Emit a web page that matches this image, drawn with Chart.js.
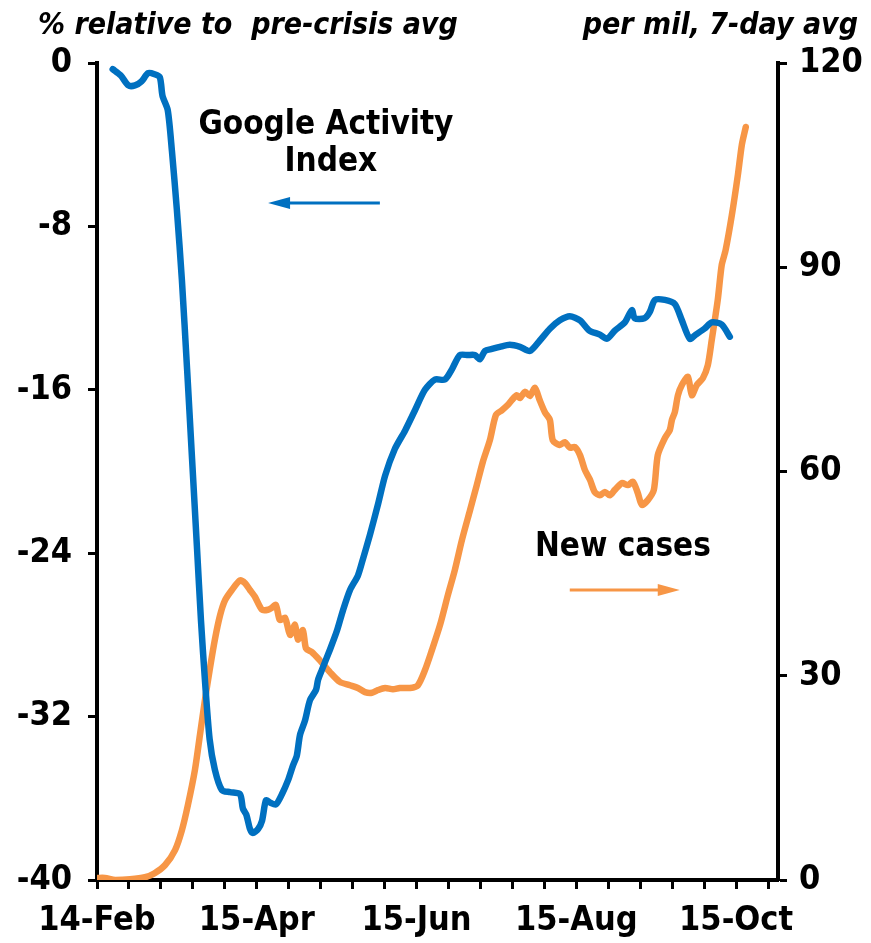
<!DOCTYPE html>
<html>
<head>
<meta charset="utf-8">
<script src="https://cdn.jsdelivr.net/npm/chart.js@4/dist/chart.umd.min.js"></script>
<style>
  html, body { margin: 0; padding: 0; background: #fff; }
  #wrap { width: 871px; height: 943px; }
</style>
</head>
<body>
<div id="wrap"><canvas id="chart" width="871" height="943"></canvas></div>
<script>
'use strict';

// days counted from 14-Feb
var tickLabels = ['14-Feb', '15-Apr', '15-Jun', '15-Aug', '15-Oct'];

// Google Activity Index, % relative to pre-crisis avg (left axis)
var gaiDays = [6, 9, 12, 14.5, 17, 19.5, 22, 24, 25, 27, 28.6, 30.5, 32.4, 34.4, 36.3, 38.2, 39.7, 41.2, 43, 45,
  47.7, 50.8, 54.6, 55.7, 57, 58.4, 59.5, 61.5, 63, 64.5, 66, 68.3, 70.6, 73, 74.8, 76.3, 77.5, 79.4, 81.3, 83.6,
  84.4, 85.9, 89, 91.6, 93.9, 96.6, 99.6, 101.5, 104.2, 107.3, 110, 113.7, 117.6, 121.4, 125.2, 129, 132.8, 135.5,
  138.5, 141.6, 144.3, 146.2, 148.1, 150.8, 153.8, 157.6, 161.5, 165.3, 169, 173, 176.7, 180.5, 184.4, 188, 192,
  194.7, 197.7, 201.5, 204.2, 205.3, 209, 211, 213, 216.8, 220.6, 223.3, 226.3, 228.6, 232, 234.7, 238.5, 241.6];
var gaiValues = [-0.3, -0.6, -1.1, -1.1, -0.9, -0.5, -0.55, -0.7, -1.6, -2.3, -4.3, -7.2, -10.6, -15, -19.4, -23.8, -27.3, -30.2, -33.1, -34.6,
  -35.6, -35.7, -35.8, -36.5, -36.8, -37.5, -37.7, -37.5, -37.1, -36.1, -36.2, -36.3, -35.8, -35.1, -34.4, -33.9, -32.9, -32.2, -31.2, -30.7,
  -30.2, -29.7, -28.7, -27.8, -26.8, -25.8, -25.1, -24.3, -23.1, -21.6, -20.2, -18.9, -18, -17, -16, -15.5, -15.5, -15,
  -14.3, -14.3, -14.3, -14.5, -14.1, -14, -13.9, -13.8, -13.9, -14.1, -13.6, -13, -12.6, -12.4, -12.6, -13.1, -13.3,
  -13.5, -13.1, -12.7, -12.1, -12.5, -12.5, -12.2, -11.6, -11.6, -11.8, -12.6, -13.5, -13.3, -13, -12.7, -12.8, -13.4];

// New cases per mil, 7-day avg (right axis)
var casesDays = [0, 3, 7, 12.6, 18.3, 22, 26, 29.8, 32.4, 34.7, 37.4, 39.3, 41.2, 43, 45, 47, 48.9, 51.5, 54.6, 56.5,
  58.4, 60.3, 63, 65.3, 66.8, 68.3, 69.8, 71.8, 73.7, 75.6, 76.7, 78.6, 79.8, 82, 85, 89, 92.7, 96.6, 99.6, 102.3,
  105, 107.3, 110, 113, 115.6, 119.5, 122.5, 125.2, 127.9, 131, 134, 136.6, 139.3, 142.4, 145, 147.3, 150, 152.3,
  154.6, 156.9, 158.4, 160.3, 161.5, 163.4, 165.3, 167.2, 169, 171, 172.9, 174, 176.7, 178.6, 180.5, 182.4, 184.4,
  186.3, 188.2, 190, 192, 193.9, 195.8, 197.7, 200.4, 202.7, 204.6, 206.5, 208, 210.3, 212.6, 214.1, 216.8, 218.7,
  219.5, 220.6, 221.8, 223.3, 225.6, 227.1, 229, 231.3, 233.2, 234.7, 237, 238.5, 240, 242.4, 244.7, 246.2, 247.7];
var casesValues = [0.3, 0.3, 0, 0.1, 0.4, 1, 2.2, 4.4, 7.3, 11, 16.2, 21.3, 26.4, 30.8, 35.3, 38.9, 41.1, 42.6, 44, 43.6,
  42.6, 41.6, 39.7, 39.7, 40, 40.4, 38.2, 38.5, 36, 37.5, 35.3, 36.7, 34, 33.5, 32.3, 30.5, 29.1, 28.6, 28.2, 27.6,
  27.5, 27.9, 28.2, 28, 28.2, 28.2, 28.6, 30.8, 33.8, 37.5, 41.9, 45.5, 49.9, 54.3, 58, 61.4, 64.6, 68.3,
  69, 69.8, 70.5, 71.2, 70.8, 71.7, 71.1, 72.3, 70.5, 68.7, 67.6, 64.6, 63.9, 64.3, 63.5, 63.6, 62.4,
  60.2, 58.8, 57, 56.5, 57, 56.5, 57.3, 58.3, 58, 58.5, 56.8, 55.1, 55.8, 57.3, 62.4, 64.9, 66.1,
  67.6, 68.7, 71.2, 72.7, 73.9, 71.2, 72.7, 73.7, 75.6, 79.3, 85.2, 90.3, 92.5, 97.7, 103.6, 108, 110.6];

var blue = '#0070C0';
var orange = '#F79646';
var fontFamily = "'DejaVu Sans Condensed', 'DejaVu Sans', sans-serif";
var tickStep = 12.2;   // minor tick spacing in days, label on every 5th

function toPoints(xs, ys) {
  return xs.map(function (x, i) { return { x: x, y: ys[i] }; });
}

function arrow(ctx, x1, y1, x2, y2, color) {
  var dir = x2 > x1 ? 1 : -1;
  ctx.save();
  ctx.strokeStyle = color;
  ctx.fillStyle = color;
  ctx.lineWidth = 3;
  ctx.beginPath();
  ctx.moveTo(x1, y1);
  ctx.lineTo(x2 - dir * 14, y2);
  ctx.stroke();
  ctx.beginPath();
  ctx.moveTo(x2, y2);
  ctx.lineTo(x2 - dir * 22, y2 - 6);
  ctx.lineTo(x2 - dir * 22, y2 + 6);
  ctx.closePath();
  ctx.fill();
  ctx.restore();
}

var labelsPlugin = {
  id: 'labels',
  afterDraw: function (chart) {
    var ctx = chart.ctx;
    var xs = chart.scales.x, yl = chart.scales.y, yr = chart.scales.y1;
    ctx.save();
    ctx.fillStyle = '#000';
    ctx.textBaseline = 'alphabetic';
    ctx.font = 'italic bold 30px ' + fontFamily;
    ctx.textAlign = 'left';
    ctx.fillText('% relative to  pre-crisis avg', 38, 34);
    ctx.textAlign = 'right';
    ctx.fillText('per mil, 7-day avg', 858, 34);

    ctx.font = 'bold 33px ' + fontFamily;
    ctx.textAlign = 'center';
    ctx.textBaseline = 'middle';
    ctx.fillText('Google Activity', xs.getPixelForValue(87.4), yl.getPixelForValue(-3.05));
    ctx.fillText('Index', xs.getPixelForValue(89.3), yl.getPixelForValue(-4.85));
    ctx.fillText('New cases', xs.getPixelForValue(200.8), yr.getPixelForValue(48.8));
    ctx.restore();

    arrow(ctx, xs.getPixelForValue(108), yl.getPixelForValue(-6.85),
      xs.getPixelForValue(65.3), yl.getPixelForValue(-6.85), blue);
    arrow(ctx, xs.getPixelForValue(180.5), yr.getPixelForValue(42.6),
      xs.getPixelForValue(222.5), yr.getPixelForValue(42.6), orange);
  }
};

var tickFont = { family: fontFamily, size: 34, weight: 'bold' };

var ctx = document.getElementById('chart').getContext('2d');
var chart = new Chart(ctx, {
  type: 'line',
  data: {
    datasets: [{
      label: 'Google Activity Index',
      data: toPoints(gaiDays, gaiValues),
      yAxisID: 'y',
      borderColor: blue,
      borderWidth: 6.5,
      pointRadius: 0,
      tension: 0.25,
      borderCapStyle: 'round',
      borderJoinStyle: 'round'
    }, {
      label: 'New cases',
      data: toPoints(casesDays, casesValues),
      yAxisID: 'y1',
      borderColor: orange,
      borderWidth: 6.5,
      pointRadius: 0,
      tension: 0.25,
      borderCapStyle: 'round',
      borderJoinStyle: 'round'
    }]
  },
  options: {
    responsive: false,
    animation: false,
    layout: { padding: { top: 63, left: 0, right: 0, bottom: 0 } },
    plugins: {
      legend: { display: false },
      tooltip: { enabled: false }
    },
    scales: {
      x: {
        type: 'linear',
        min: 0,
        max: 260,
        afterBuildTicks: function (scale) {
          var t = [];
          for (var k = 0; k <= 21; k++) t.push({ value: k * tickStep });
          scale.ticks = t;
        },
        afterFit: function (scale) { scale.height = 63; },
        border: { display: true, color: '#000', width: 4 },
        grid: { drawOnChartArea: false, color: '#000', tickLength: 9, tickWidth: 3 },
        ticks: {
          color: '#000',
          autoSkip: false,
          maxRotation: 0,
          padding: 12,
          font: tickFont,
          callback: function (value, index) {
            return index % 5 === 0 ? tickLabels[index / 5] : '';
          }
        }
      },
      y: {
        position: 'left',
        min: -40,
        max: 0,
        afterFit: function (scale) { scale.width = 97; },
        border: { display: true, color: '#000', width: 4 },
        grid: { drawOnChartArea: false, color: '#000', tickLength: 9, tickWidth: 3 },
        ticks: {
          stepSize: 8,
          color: '#000',
          padding: 16,
          font: tickFont
        }
      },
      y1: {
        position: 'right',
        min: 0,
        max: 120,
        afterFit: function (scale) { scale.width = 93; },
        border: { display: true, color: '#000', width: 4 },
        grid: { drawOnChartArea: false, color: '#000', tickLength: 9, tickWidth: 3 },
        ticks: {
          stepSize: 30,
          color: '#000',
          padding: 12,
          font: tickFont
        }
      }
    }
  },
  plugins: [labelsPlugin]
});
</script>
</body>
</html>
